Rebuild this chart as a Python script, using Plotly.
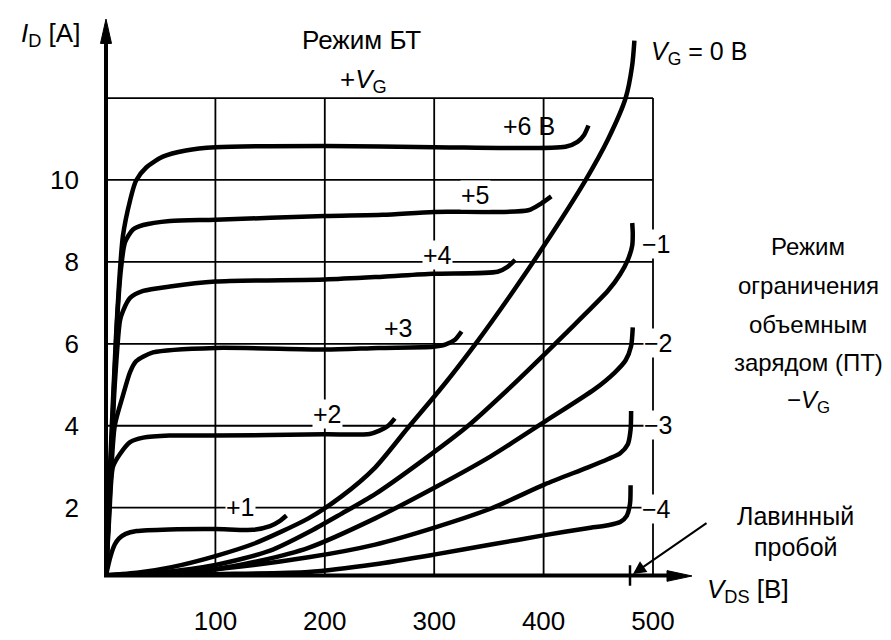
import plotly.graph_objects as go

# ---------------- data ----------------
# V_DS [V] and I_D [A]; the drawn V_DS axis sits at ~0.35 A on the grid scale
v_p6 = [0, 4, 9, 12, 15.5, 22, 27.4, 37, 52, 73, 100, 200, 300, 420, 431, 437, 441]
i_p6 = [0.35, 3.2, 6.1, 7.5, 8.64, 9.5, 9.98, 10.31, 10.57, 10.72, 10.8, 10.83, 10.8, 10.81, 10.93, 11.1, 11.33]

v_p5 = [0, 5, 10, 13.7, 17.4, 24.7, 34, 58.5, 100, 200, 253, 300, 386, 398, 407]
i_p5 = [0.35, 3.5, 6.5, 7.83, 8.48, 8.79, 8.9, 9.0, 9.03, 9.12, 9.15, 9.22, 9.26, 9.43, 9.6]

v_p4 = [0, 4, 8, 12.8, 15.5, 22, 34, 58.5, 100, 200, 253, 299, 358, 367, 374]
i_p4 = [0.35, 2.8, 5.0, 6.57, 6.8, 7.12, 7.29, 7.4, 7.52, 7.57, 7.64, 7.71, 7.76, 7.88, 8.05]

v_p3 = [0, 4, 8, 15.5, 22, 27.4, 43, 100, 200, 249, 299, 310, 319, 325]
i_p3 = [0.35, 2.5, 4.0, 4.74, 5.31, 5.57, 5.79, 5.9, 5.86, 5.9, 5.93, 5.98, 6.1, 6.3]

v_p2 = [0, 3, 6.4, 12.8, 22, 34, 58, 100, 200, 241, 250, 258, 264]
i_p2 = [0.35, 1.8, 3.0, 3.31, 3.6, 3.71, 3.76, 3.76, 3.79, 3.8, 3.88, 4.0, 4.18]

v_p1 = [0, 4, 8, 12, 18, 28, 58, 100, 134, 150, 159, 165]
i_p1 = [0.35, 0.8, 1.1, 1.25, 1.36, 1.43, 1.47, 1.48, 1.46, 1.55, 1.68, 1.81]

v_0 = [0, 30, 60, 100, 135, 185, 215, 246, 276, 308, 340, 370, 398, 438, 459, 475, 481, 483]
i_0 = [0.35, 0.42, 0.55, 0.82, 1.12, 1.74, 2.27, 2.98, 3.95, 4.97, 6.08, 7.2, 8.3, 9.98, 11.0, 12.0, 12.8, 13.4]

v_m1 = [0, 50, 100, 150, 185, 215, 246, 301, 331, 368, 401, 420, 459, 470, 477, 481, 481.5, 481]
i_m1 = [0.35, 0.42, 0.6, 0.95, 1.40, 1.85, 2.33, 3.38, 4.0, 4.9, 5.75, 6.25, 7.3, 7.7, 8.05, 8.4, 8.7, 8.95]

v_m2 = [0, 60, 100, 140, 185, 246, 301, 352, 401, 447, 465, 475, 480, 481.5]
i_m2 = [0.35, 0.4, 0.5, 0.7, 1.02, 1.74, 2.5, 3.26, 4.1, 4.9, 5.3, 5.6, 5.95, 6.4]

v_m3 = [0, 100, 185, 246, 301, 352, 401, 440, 459, 470, 477, 479.5, 480]
i_m3 = [0.35, 0.5, 0.79, 1.10, 1.52, 1.98, 2.57, 2.98, 3.19, 3.33, 3.55, 3.9, 4.36]

v_m4 = [0, 100, 185, 246, 301, 352, 401, 440, 459, 470, 476, 479, 479.5]
i_m4 = [0.35, 0.38, 0.43, 0.62, 0.86, 1.1, 1.33, 1.5, 1.57, 1.65, 1.8, 2.1, 2.55]

x_ticks = [100, 200, 300, 400, 500]
x_ticklabels = ["100", "200", "300", "400", "500"]
y_ticks = [2, 4, 6, 8, 10]
y_ticklabels = ["2", "4", "6", "8", "10"]
grid_x = [100, 200, 300, 400, 500]
grid_y = [2, 4, 6, 8, 10, 12]

series = [
    (v_p6, i_p6), (v_p5, i_p5), (v_p4, i_p4), (v_p3, i_p3), (v_p2, i_p2), (v_p1, i_p1),
    (v_0, i_0), (v_m1, i_m1), (v_m2, i_m2), (v_m3, i_m3), (v_m4, i_m4),
]

# ---------------- layout geometry ----------------
W, H = 891, 640
PL, PR, PT, PB = 98, 690, 12, 581   # plot area in pixels
XMAX = (PR - PL) / 1.094
YMIN = (596 - PB) / 42.0
YMAX = (596 - PT) / 42.0


def px(x):
    return (x - PL) / (PR - PL)


def py(y):
    return (PB - y) / (PB - PT)


FONT = "Liberation Sans, Arial, sans-serif"

fig = go.Figure()
for vx, iy in series:
    fig.add_trace(go.Scatter(
        x=vx, y=iy, mode="lines",
        line=dict(color="black", width=4.5, shape="spline", smoothing=0.7),
        hoverinfo="skip", showlegend=False,
    ))

shapes = []
for g in grid_y:
    shapes.append(dict(type="line", xref="x", yref="y", x0=0, x1=500, y0=g, y1=g,
                       line=dict(color="black", width=1.8), layer="below"))
for g in grid_x:
    shapes.append(dict(type="line", xref="x", yref="y", x0=g, x1=g, y0=YMIN, y1=12,
                       line=dict(color="black", width=1.8), layer="below"))

# axes with arrow heads
shapes.append(dict(type="line", xref="paper", yref="paper", x0=px(98), x1=px(98), y0=py(583), y1=py(30),
                   line=dict(color="black", width=4)))
shapes.append(dict(type="path", xref="paper", yref="paper",
                   path=f"M{px(98)},{py(11)} L{px(92.5)},{py(36)} L{px(103.5)},{py(36)} Z",
                   fillcolor="black", line=dict(color="black", width=1)))
shapes.append(dict(type="line", xref="paper", yref="paper", x0=px(96), x1=px(665), y0=py(581.5), y1=py(581.5),
                   line=dict(color="black", width=4)))
shapes.append(dict(type="path", xref="paper", yref="paper",
                   path=f"M{px(684)},{py(582)} L{px(659)},{py(576.5)} L{px(659)},{py(587.5)} Z",
                   fillcolor="black", line=dict(color="black", width=1)))
# avalanche breakdown tick
shapes.append(dict(type="line", xref="paper", yref="paper", x0=px(622), x1=px(622), y0=py(571), y1=py(592),
                   line=dict(color="black", width=2.5)))

annotations = []


def txt(t, x, y, size=25, xanchor="center", yanchor="middle", bg=None):
    a = dict(text=t, x=px(x), y=py(y), xref="paper", yref="paper",
             showarrow=False, xanchor=xanchor, yanchor=yanchor,
             font=dict(family=FONT, size=size, color="black"))
    if bg:
        a["bgcolor"] = bg
        a["borderpad"] = 0
    annotations.append(a)


txt("<i>I</i><sub>D</sub> [A]", 11, 27, size=26, xanchor="left")
txt("Режим БТ", 353, 33, size=26)
txt("+<i>V</i><sub>G</sub>", 355, 74, size=26)
txt("<i>V</i><sub>G</sub> = 0 В", 641, 46, size=25, xanchor="left")

txt("+6 В", 521, 121, size=25)
txt("+5", 467, 191, size=25, bg="white")
txt("+4", 429, 253, size=25, bg="white")
txt("+3", 390, 328, size=25)
txt("+2", 319, 416, size=25, bg="white")
txt("+1", 232, 511, size=25, bg="white")

txt("−1", 648, 242, size=25, bg="white")
txt("−2", 650, 343, size=25, bg="white")
txt("−3", 650, 427, size=25, bg="white")
txt("−4", 648, 513, size=25, bg="white")

for line_text, yy in [("Режим", 244), ("ограничения", 284), ("объемным", 324),
                      ("зарядом (ПТ)", 363), ("−<i>V</i><sub>G</sub>", 403)]:
    txt(line_text, 800, yy, size=24)

txt("Лавинный", 787, 521, size=25)
txt("пробой", 788, 552, size=25)
txt("<i>V</i><sub>DS</sub> [В]", 697, 597, size=26, xanchor="left")

annotations.append(dict(text="", x=px(625), y=py(580), xref="paper", yref="paper",
                        ax=75, ay=-52, axref="pixel", ayref="pixel", showarrow=True,
                        arrowhead=2, arrowsize=1.3, arrowwidth=2, arrowcolor="black", standoff=0))

fig.update_layout(
    width=W, height=H, autosize=False,
    margin=dict(l=PL, r=W - PR, t=PT, b=H - PB, pad=0),
    paper_bgcolor="white", plot_bgcolor="white",
    shapes=shapes, annotations=annotations,
    xaxis=dict(range=[0, XMAX], showgrid=False, zeroline=False, showline=False,
               tickvals=x_ticks, ticktext=x_ticklabels, ticks="",
               tickfont=dict(family=FONT, size=26, color="black"), ticklabelstandoff=28),
    yaxis=dict(range=[YMIN, YMAX], showgrid=False, zeroline=False, showline=False,
               tickvals=y_ticks, ticktext=y_ticklabels, ticks="",
               tickfont=dict(family=FONT, size=26, color="black"), ticklabelstandoff=26),
    showlegend=False,
)

fig.write_html("out.html")
